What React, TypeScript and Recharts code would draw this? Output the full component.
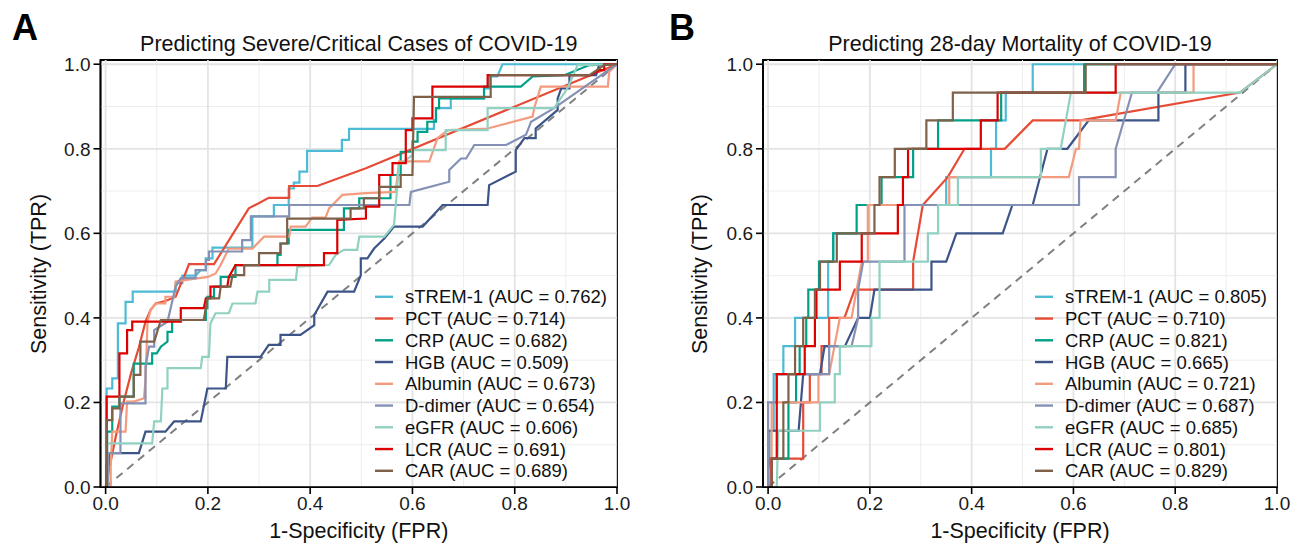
import React from 'react';
import { LineChart, Line, XAxis, YAxis, ReferenceArea } from 'recharts';

type P = [number, number];

const FONT = '"Liberation Sans", Arial, Helvetica, sans-serif';

const seriesNames = ['sTREM-1', 'PCT', 'CRP', 'HGB', 'Albumin', 'D-dimer', 'eGFR', 'LCR', 'CAR'];
const seriesColors = ['#4DBBD5', '#E64B35', '#00A087', '#3C5488', '#F39B7F', '#8491B4', '#91D1C2', '#DC0000', '#7E6148'];
const aucA = ['0.762', '0.714', '0.682', '0.509', '0.673', '0.654', '0.606', '0.691', '0.689'];
const aucB = ['0.805', '0.710', '0.821', '0.665', '0.721', '0.687', '0.685', '0.801', '0.829'];
const axisTicks = [0, 0.2, 0.4, 0.6, 0.8, 1.0];
const majorGrid = [0, 0.2, 0.4, 0.6, 0.8, 1.0];
const minorGrid = [0.1, 0.3, 0.5, 0.7, 0.9];
const chanceLine: P[] = [[0, 0], [1, 1]];
const titleA = 'Predicting Severe/Critical Cases of COVID-19';
const titleB = 'Predicting 28-day Mortality of COVID-19';
const xTitle = '1-Specificity (FPR)';
const yTitle = 'Sensitivity (TPR)';

// ---------- Panel A: severe/critical ----------
const aSTREM1: P[] = [[0,0],[0.002,0],[0.002,0.233],[0.013,0.233],[0.013,0.257],[0.024,0.257],[0.024,0.387],[0.039,0.387],[0.039,0.438],[0.053,0.438],[0.053,0.462],[0.137,0.462],[0.137,0.482],[0.15,0.482],[0.15,0.5],[0.176,0.5],[0.186,0.513],[0.196,0.513],[0.196,0.541],[0.209,0.541],[0.209,0.566],[0.287,0.566],[0.287,0.64],[0.329,0.64],[0.329,0.667],[0.358,0.667],[0.358,0.706],[0.368,0.706],[0.368,0.72],[0.379,0.72],[0.379,0.746],[0.394,0.746],[0.394,0.795],[0.462,0.795],[0.462,0.821],[0.476,0.821],[0.476,0.847],[0.642,0.847],[0.642,0.868],[0.646,0.868],[0.646,0.896],[0.675,0.896],[0.675,0.919],[0.74,0.919],[0.74,0.943],[0.75,0.943],[0.75,0.971],[0.766,0.971],[0.776,1],[1,1]];
const aPCT: P[] = [[0,0],[0.01,0.06],[0.02,0.12],[0.035,0.2],[0.05,0.27],[0.065,0.33],[0.078,0.391],[0.088,0.419],[0.098,0.434],[0.117,0.44],[0.137,0.45],[0.147,0.48],[0.156,0.505],[0.163,0.527],[0.212,0.527],[0.28,0.659],[0.319,0.684],[0.359,0.684],[0.359,0.712],[0.414,0.712],[0.509,0.754],[1,1]];
const aCRP: P[] = [[0,0],[0.003,0],[0.003,0.131],[0.013,0.131],[0.013,0.19],[0.027,0.19],[0.027,0.214],[0.055,0.214],[0.055,0.292],[0.091,0.292],[0.091,0.316],[0.1,0.316],[0.108,0.332],[0.121,0.344],[0.121,0.367],[0.13,0.367],[0.13,0.395],[0.196,0.395],[0.196,0.423],[0.199,0.423],[0.199,0.45],[0.212,0.45],[0.212,0.474],[0.225,0.474],[0.225,0.497],[0.254,0.497],[0.254,0.525],[0.336,0.525],[0.336,0.549],[0.342,0.549],[0.342,0.576],[0.358,0.576],[0.358,0.608],[0.466,0.608],[0.466,0.659],[0.496,0.659],[0.496,0.683],[0.557,0.683],[0.557,0.738],[0.577,0.738],[0.577,0.793],[0.6,0.793],[0.6,0.817],[0.61,0.817],[0.61,0.84],[0.629,0.84],[0.629,0.864],[0.646,0.864],[0.646,0.896],[0.652,0.896],[0.652,0.919],[0.74,0.919],[0.74,0.947],[0.812,0.947],[0.835,0.971],[0.897,0.974],[0.946,0.998],[1,1]];
const aHGB: P[] = [[0,0],[0.002,0],[0.002,0.052],[0.007,0.052],[0.007,0.08],[0.065,0.08],[0.078,0.131],[0.117,0.131],[0.134,0.155],[0.186,0.155],[0.199,0.233],[0.235,0.233],[0.238,0.308],[0.303,0.308],[0.319,0.336],[0.342,0.336],[0.342,0.36],[0.381,0.36],[0.408,0.383],[0.408,0.407],[0.434,0.462],[0.486,0.462],[0.499,0.501],[0.499,0.541],[0.512,0.541],[0.525,0.564],[0.545,0.588],[0.564,0.616],[0.62,0.616],[0.659,0.667],[0.747,0.667],[0.75,0.714],[0.802,0.746],[0.802,0.797],[0.819,0.825],[0.841,0.825],[0.841,0.848],[0.884,0.892],[0.884,0.919],[0.891,0.943],[0.907,0.943],[0.907,0.974],[0.959,0.974],[0.965,0.998],[1,1]];
const aAlbumin: P[] = [[0,0],[0.01,0],[0.01,0.048],[0.013,0.131],[0.039,0.131],[0.042,0.202],[0.055,0.202],[0.075,0.21],[0.078,0.253],[0.082,0.391],[0.088,0.419],[0.098,0.434],[0.117,0.434],[0.117,0.45],[0.134,0.45],[0.137,0.486],[0.2,0.497],[0.215,0.505],[0.225,0.525],[0.233,0.545],[0.241,0.564],[0.287,0.564],[0.31,0.592],[0.359,0.592],[0.362,0.616],[0.391,0.616],[0.404,0.637],[0.43,0.637],[0.437,0.659],[0.463,0.691],[0.509,0.695],[0.567,0.698],[0.574,0.77],[0.633,0.77],[0.649,0.825],[0.669,0.844],[0.747,0.848],[0.835,0.876],[0.838,0.896],[0.851,0.947],[0.982,0.947],[0.985,0.982],[1,1]];
const aDdimer: P[] = [[0,0],[0.005,0],[0.005,0.08],[0.029,0.08],[0.029,0.198],[0.078,0.198],[0.078,0.285],[0.085,0.332],[0.095,0.332],[0.095,0.371],[0.121,0.391],[0.137,0.474],[0.147,0.494],[0.176,0.494],[0.176,0.513],[0.196,0.513],[0.196,0.537],[0.202,0.537],[0.202,0.557],[0.267,0.557],[0.267,0.584],[0.284,0.584],[0.284,0.64],[0.359,0.64],[0.359,0.667],[0.594,0.667],[0.597,0.698],[0.672,0.722],[0.672,0.75],[0.695,0.777],[0.705,0.777],[0.721,0.809],[0.783,0.809],[0.822,0.833],[0.832,0.864],[0.877,0.896],[1,1]];
const aEGFR: P[] = [[0,0],[0.003,0],[0.003,0.103],[0.091,0.103],[0.095,0.155],[0.108,0.155],[0.111,0.233],[0.121,0.233],[0.121,0.281],[0.186,0.281],[0.189,0.308],[0.202,0.308],[0.205,0.387],[0.215,0.411],[0.241,0.411],[0.248,0.434],[0.293,0.434],[0.297,0.462],[0.32,0.462],[0.32,0.49],[0.372,0.49],[0.375,0.521],[0.437,0.525],[0.45,0.549],[0.466,0.561],[0.492,0.561],[0.496,0.592],[0.545,0.592],[0.564,0.62],[0.574,0.762],[0.6,0.785],[0.6,0.797],[0.665,0.797],[0.665,0.844],[0.747,0.844],[0.747,0.896],[0.877,0.896],[0.903,0.943],[0.913,0.97],[0.923,0.998],[1,1]];
const aLCR: P[] = [[0,0],[0.002,0],[0.002,0.214],[0.027,0.214],[0.027,0.316],[0.042,0.316],[0.042,0.371],[0.052,0.371],[0.052,0.391],[0.147,0.391],[0.147,0.423],[0.192,0.423],[0.196,0.446],[0.205,0.446],[0.205,0.474],[0.238,0.474],[0.241,0.497],[0.254,0.525],[0.427,0.525],[0.427,0.553],[0.453,0.553],[0.453,0.632],[0.509,0.635],[0.509,0.663],[0.535,0.663],[0.535,0.738],[0.561,0.738],[0.561,0.766],[0.587,0.766],[0.587,0.844],[0.6,0.844],[0.6,0.872],[0.639,0.872],[0.639,0.947],[0.747,0.947],[0.747,0.974],[0.949,0.974],[0.965,0.986],[0.975,0.986],[0.975,1],[1,1]];
const aCAR: P[] = [[0,0],[0.002,0],[0.002,0.158],[0.013,0.158],[0.013,0.186],[0.027,0.186],[0.027,0.214],[0.055,0.214],[0.055,0.265],[0.068,0.265],[0.068,0.344],[0.095,0.344],[0.108,0.395],[0.192,0.395],[0.199,0.446],[0.222,0.446],[0.225,0.474],[0.244,0.474],[0.248,0.501],[0.271,0.501],[0.271,0.525],[0.3,0.525],[0.3,0.553],[0.342,0.553],[0.342,0.576],[0.355,0.576],[0.355,0.635],[0.479,0.635],[0.479,0.659],[0.505,0.659],[0.505,0.683],[0.535,0.683],[0.535,0.71],[0.577,0.71],[0.577,0.738],[0.6,0.738],[0.603,0.923],[0.753,0.923],[0.753,0.974],[0.946,0.974],[0.975,0.998],[1,1]];

// ---------- Panel B: 28-day mortality ----------
const bSTREM1: P[] = [[0,0],[0.003,0],[0.003,0.133],[0.011,0.133],[0.011,0.267],[0.03,0.267],[0.03,0.333],[0.053,0.333],[0.053,0.4],[0.118,0.4],[0.118,0.533],[0.128,0.533],[0.128,0.6],[0.197,0.6],[0.197,0.667],[0.35,0.667],[0.35,0.733],[0.438,0.733],[0.438,0.8],[0.448,0.8],[0.448,0.867],[0.467,0.867],[0.467,0.933],[0.52,0.933],[0.52,1],[1,1]];
const bPCT: P[] = [[0,0],[0.005,0.067],[0.069,0.067],[0.069,0.2],[0.082,0.2],[0.082,0.267],[0.105,0.267],[0.105,0.333],[0.12,0.333],[0.12,0.4],[0.15,0.4],[0.17,0.467],[0.285,0.467],[0.285,0.533],[0.304,0.667],[0.353,0.733],[0.386,0.8],[0.465,0.8],[0.52,0.867],[0.614,0.867],[0.927,0.933],[1,1]];
const bCRP: P[] = [[0,0],[0.007,0.067],[0.04,0.067],[0.04,0.2],[0.055,0.2],[0.055,0.267],[0.062,0.267],[0.062,0.333],[0.075,0.333],[0.075,0.4],[0.079,0.4],[0.079,0.467],[0.1,0.467],[0.1,0.533],[0.128,0.533],[0.128,0.6],[0.174,0.6],[0.174,0.667],[0.223,0.667],[0.223,0.733],[0.285,0.733],[0.285,0.8],[0.334,0.8],[0.334,0.867],[0.458,0.867],[0.458,0.933],[0.621,0.933],[0.621,1],[1,1]];
const bHGB: P[] = [[0,0],[0,0.133],[0.06,0.133],[0.069,0.267],[0.102,0.267],[0.111,0.333],[0.151,0.333],[0.177,0.4],[0.2,0.4],[0.209,0.467],[0.321,0.467],[0.321,0.533],[0.35,0.533],[0.37,0.6],[0.461,0.6],[0.48,0.667],[0.52,0.667],[0.549,0.8],[0.588,0.8],[0.63,0.867],[0.767,0.867],[0.767,0.933],[0.82,0.933],[0.82,1],[1,1]];
const bAlbumin: P[] = [[0,0],[0.007,0.067],[0.007,0.2],[0.099,0.2],[0.099,0.267],[0.12,0.267],[0.141,0.4],[0.164,0.4],[0.184,0.533],[0.196,0.533],[0.196,0.667],[0.356,0.667],[0.356,0.733],[0.591,0.733],[0.605,0.8],[0.611,0.8],[0.614,0.867],[0.683,0.867],[0.693,0.933],[0.836,0.933],[0.836,1],[1,1]];
const bDdimer: P[] = [[0,0],[0,0.2],[0.017,0.2],[0.017,0.267],[0.12,0.267],[0.12,0.333],[0.164,0.333],[0.177,0.4],[0.177,0.467],[0.187,0.533],[0.268,0.533],[0.268,0.667],[0.611,0.667],[0.611,0.733],[0.683,0.733],[0.683,0.8],[0.715,0.933],[0.764,0.933],[0.8,1],[1,1]];
const bEGFR: P[] = [[0,0],[0.017,0],[0.02,0.133],[0.102,0.133],[0.102,0.2],[0.131,0.2],[0.131,0.267],[0.141,0.267],[0.141,0.333],[0.203,0.333],[0.203,0.4],[0.219,0.4],[0.219,0.533],[0.314,0.533],[0.314,0.6],[0.334,0.6],[0.334,0.667],[0.373,0.667],[0.373,0.733],[0.536,0.733],[0.536,0.8],[0.575,0.8],[0.595,0.933],[0.927,0.933],[1,1]];
const bLCR: P[] = [[0,0],[0.007,0],[0.007,0.067],[0.017,0.067],[0.017,0.267],[0.072,0.267],[0.072,0.333],[0.092,0.333],[0.092,0.4],[0.095,0.4],[0.095,0.467],[0.141,0.467],[0.141,0.533],[0.184,0.533],[0.184,0.6],[0.255,0.6],[0.255,0.667],[0.265,0.667],[0.265,0.733],[0.275,0.733],[0.275,0.8],[0.418,0.8],[0.418,0.867],[0.451,0.867],[0.451,0.933],[0.683,0.933],[0.683,1],[1,1]];
const bCAR: P[] = [[0,0],[0.007,0],[0.007,0.067],[0.03,0.067],[0.03,0.2],[0.04,0.2],[0.04,0.267],[0.053,0.267],[0.053,0.333],[0.069,0.333],[0.069,0.4],[0.092,0.4],[0.092,0.467],[0.102,0.467],[0.102,0.533],[0.135,0.533],[0.135,0.6],[0.209,0.6],[0.209,0.667],[0.219,0.667],[0.219,0.733],[0.249,0.733],[0.249,0.8],[0.311,0.8],[0.311,0.867],[0.363,0.867],[0.363,0.933],[0.624,0.933],[0.624,1],[1,1]];

const curvesA = [aSTREM1, aPCT, aCRP, aHGB, aAlbumin, aDdimer, aEGFR, aLCR, aCAR];
const curvesB = [bSTREM1, bPCT, bCRP, bHGB, bAlbumin, bDdimer, bEGFR, bLCR, bCAR];

const toRows = (pts: P[]) => pts.map(([x, y]) => ({ x, y }));
const X_DOMAIN: [number, number] = [-0.01, 1];
const Y_DOMAIN: [number, number] = [0, 1.01];

const hLine = (v: number) => toRows([[X_DOMAIN[0], v], [X_DOMAIN[1], v]]);
const vLine = (v: number) => toRows([[v, Y_DOMAIN[0]], [v, Y_DOMAIN[1]]]);

function RocPanel({ curves, width, marginLeft, marginRight }: { curves: P[][]; width: number; marginLeft: number; marginRight: number }) {
  const tickStyle = { fill: '#1a1a1a', fontSize: 19, fontFamily: FONT };
  return (
    <LineChart width={width} height={548} margin={{ top: 60, right: marginRight, bottom: 21, left: marginLeft }}>
      <XAxis type="number" dataKey="x" domain={X_DOMAIN} ticks={axisTicks} allowDataOverflow
        tickFormatter={(v: number) => v.toFixed(1)} tickSize={7} tickMargin={3} height={40}
        stroke="#000" strokeWidth={1.6} tick={tickStyle} interval={0} />
      <YAxis type="number" dataKey="y" domain={Y_DOMAIN} ticks={axisTicks} allowDataOverflow
        tickFormatter={(v: number) => v.toFixed(1)} tickSize={7} tickMargin={3} width={60.5}
        stroke="#000" strokeWidth={1.6} tick={tickStyle} interval={0} />
      {minorGrid.map((v) => (
        <Line key={'mh' + v} data={hLine(v)} dataKey="y" stroke="#EDEDED" strokeWidth={1} dot={false} activeDot={false} isAnimationActive={false} />
      ))}
      {minorGrid.map((v) => (
        <Line key={'mv' + v} data={vLine(v)} dataKey="y" stroke="#EDEDED" strokeWidth={1} dot={false} activeDot={false} isAnimationActive={false} />
      ))}
      {majorGrid.map((v) => (
        <Line key={'gh' + v} data={hLine(v)} dataKey="y" stroke="#E3E3E3" strokeWidth={1.8} dot={false} activeDot={false} isAnimationActive={false} />
      ))}
      {majorGrid.map((v) => (
        <Line key={'gv' + v} data={vLine(v)} dataKey="y" stroke="#E3E3E3" strokeWidth={1.8} dot={false} activeDot={false} isAnimationActive={false} />
      ))}
      <Line data={toRows(chanceLine)} dataKey="y" stroke="#808080" strokeWidth={2} strokeDasharray="8 6" dot={false} activeDot={false} isAnimationActive={false} />
      {curves.map((c, i) => (
        <Line key={seriesNames[i]} name={seriesNames[i]} data={toRows(c)} dataKey="y" stroke={seriesColors[i]} strokeWidth={2.2}
          dot={false} activeDot={false} isAnimationActive={false} />
      ))}
      <ReferenceArea x1={X_DOMAIN[0]} x2={X_DOMAIN[1]} y1={Y_DOMAIN[0]} y2={Y_DOMAIN[1]} fill="#fff" fillOpacity={0} stroke="#000" strokeWidth={1.8} />
    </LineChart>
  );
}

const LEGEND_Y0 = 296.8;
const LEGEND_STEP = 21.75;

function Legend({ x, auc }: { x: number; auc: string[] }) {
  return (
    <g>
      {seriesNames.map((n, i) => (
        <g key={n}>
          <line x1={x} x2={x + 18} y1={LEGEND_Y0 + i * LEGEND_STEP} y2={LEGEND_Y0 + i * LEGEND_STEP} stroke={seriesColors[i]} strokeWidth={2.4} />
          <text x={x + 30} y={LEGEND_Y0 + i * LEGEND_STEP} dominantBaseline="central" fontSize={18.5} fontFamily={FONT} fill="#111">
            {`${n} (AUC = ${auc[i]})`}
          </text>
        </g>
      ))}
    </g>
  );
}

export default function App() {
  return (
    <div style={{ position: 'absolute', left: 0, top: 0, width: 1297, height: 548, background: '#fff', overflow: 'hidden' }}>
      <div style={{ position: 'absolute', left: 0, top: 0 }}>
        <RocPanel curves={curvesA} width={640} marginLeft={40} marginRight={23} />
      </div>
      <div style={{ position: 'absolute', left: 660, top: 0 }}>
        <RocPanel curves={curvesB} width={637} marginLeft={42.5} marginRight={20} />
      </div>
      <svg width={1297} height={548} style={{ position: 'absolute', left: 0, top: 0, pointerEvents: 'none' }}>
        <text x={25} y={27} textAnchor="middle" dominantBaseline="central" fontSize={36} fontWeight="bold" fontFamily={FONT} fill="#000">A</text>
        <text x={682} y={27} textAnchor="middle" dominantBaseline="central" fontSize={36} fontWeight="bold" fontFamily={FONT} fill="#000">B</text>
        <text x={358.75} y={44} textAnchor="middle" dominantBaseline="central" fontSize={21.5} fontFamily={FONT} fill="#111">{titleA}</text>
        <text x={1020} y={44} textAnchor="middle" dominantBaseline="central" fontSize={21.5} fontFamily={FONT} fill="#111">{titleB}</text>
        <text x={358.75} y={531} textAnchor="middle" dominantBaseline="central" fontSize={21.5} fontFamily={FONT} fill="#111">{xTitle}</text>
        <text x={1020} y={531} textAnchor="middle" dominantBaseline="central" fontSize={21.5} fontFamily={FONT} fill="#111">{xTitle}</text>
        <text x={39} y={274} textAnchor="middle" dominantBaseline="central" fontSize={21.5} fontFamily={FONT} fill="#111" transform="rotate(-90 39 274)">{yTitle}</text>
        <text x={700} y={274} textAnchor="middle" dominantBaseline="central" fontSize={21.5} fontFamily={FONT} fill="#111" transform="rotate(-90 700 274)">{yTitle}</text>
        <Legend x={375} auc={aucA} />
        <Legend x={1035} auc={aucB} />
      </svg>
    </div>
  );
}
